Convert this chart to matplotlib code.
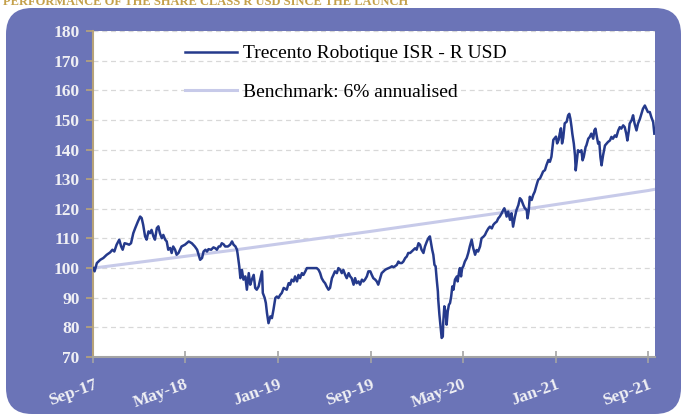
import pandas as pd
import matplotlib
matplotlib.use('Agg')
import matplotlib.pyplot as plt
from matplotlib.patches import FancyBboxPatch

start = pd.Timestamp('2017-09-01')

# fund NAV (rebased to 100), days since start
fund_days = [0, 3, 9, 18, 26, 35, 44, 50, 55, 61, 68, 73, 77, 82, 88, 94, 99, 105, 110, 117,
             123, 127, 131, 136, 140, 145, 149, 153, 158, 162, 167, 171, 175, 180, 184, 189, 193, 197, 202, 206,
             210, 215, 219, 224, 228, 232, 241, 251, 259, 267, 273, 277, 281, 286, 290, 295,
             299, 303, 310, 316, 321, 325, 330, 334, 338, 343, 347, 354, 360, 365, 369, 374,
             378, 380, 384, 387, 391, 395, 400, 404, 409, 413, 417, 422, 426, 430, 435, 439,
             444, 446, 451, 454, 457, 461, 466, 470, 474, 479, 483, 487, 492, 496, 501,
             509, 514, 518, 522, 527, 531, 536, 540, 544, 549, 553, 558, 562, 571, 579, 588,
             593, 597, 601, 606, 610, 614, 619, 623, 628, 632, 636, 641, 645, 650, 654, 658,
             663, 667, 672, 676, 680, 685, 689, 693, 698, 702, 707, 711, 715, 720, 724, 729,
             733, 737, 742, 746, 750, 755, 759, 764, 768, 772, 777, 781, 786, 790, 794, 799,
             803, 807, 812, 816, 821, 825, 829, 834, 838, 843, 847, 851, 856, 860, 864, 869,
             873, 878, 882, 886, 889, 892, 895, 898, 901, 904, 907, 908, 911, 914, 917, 920,
             921, 924, 928, 930, 933, 936, 939, 942, 945, 948, 952, 957, 959, 963, 965, 968,
             971, 974, 978, 983, 987, 991, 996, 1000, 1005, 1009, 1013, 1018, 1022, 1027, 1031, 1035,
             1040, 1044, 1049, 1053, 1057, 1062, 1066, 1070, 1075, 1079, 1082, 1085, 1088, 1092, 1097, 1101,
             1105, 1110, 1114, 1119, 1123, 1127, 1132, 1136, 1141, 1143, 1146, 1149, 1154, 1158, 1162, 1167,
             1171, 1176, 1180, 1184, 1189, 1193, 1198, 1202, 1206, 1211, 1215, 1218, 1221, 1225, 1228, 1231,
             1234, 1237, 1241, 1246, 1250, 1253, 1256, 1259, 1261, 1265, 1268, 1270, 1273, 1276, 1281, 1285,
             1288, 1291, 1296, 1298, 1303, 1307, 1311, 1316, 1319, 1322, 1325, 1329, 1332, 1335, 1338, 1342,
             1347, 1351, 1355, 1360, 1364, 1368, 1373, 1377, 1382, 1386, 1390, 1395, 1399, 1403, 1406, 1410,
             1412, 1417, 1421, 1425, 1430, 1434, 1439, 1443, 1447, 1452, 1456, 1460, 1465, 1469, 1474, 1477]
fund_values = [100.0, 98.9, 101.7, 102.8, 103.4, 104.5, 105.3, 106.2, 105.6, 107.9, 109.6, 107.3, 106.2, 108.4, 108.2, 107.9, 108.4, 111.8, 113.5, 115.7,
               117.4, 116.9, 114.6, 110.7, 109.6, 112.4, 111.8, 112.9, 110.7, 109.6, 113.5, 114.1, 111.8, 110.1, 111.2, 109.6, 109.0, 106.2, 106.8, 105.1,
               107.3, 106.2, 104.5, 105.1, 106.2, 107.3, 107.9, 109.0, 108.4, 107.3, 106.2, 104.5, 102.8, 103.4, 105.6, 106.2,
               105.6, 106.4, 106.2, 107.0, 106.7, 106.2, 107.3, 107.3, 108.4, 108.0, 107.3, 107.3, 107.9, 109.0, 107.9, 107.3,
               106.2, 104.5, 100.6, 96.6, 99.4, 96.1, 97.2, 92.7, 98.3, 94.4, 96.1, 97.7, 93.3, 92.7, 93.8, 96.1,
               98.9, 91.6, 89.9, 88.2, 84.8, 81.4, 83.7, 83.1, 85.9, 89.9, 90.4, 89.9, 91.0, 91.6, 93.3,
               92.7, 94.9, 94.4, 96.1, 95.5, 97.2, 95.5, 97.7, 96.6, 98.3, 97.7, 98.9, 100.0, 100.0, 100.0, 100.0,
               99.4, 98.3, 96.6, 95.5, 94.9, 93.8, 92.7, 93.3, 96.6, 97.7, 98.9, 98.3, 100.0, 99.4, 98.3, 99.4,
               97.7, 96.6, 98.3, 97.2, 96.6, 94.4, 96.6, 94.9, 95.5, 94.4, 96.1, 95.5, 96.1, 97.2, 98.9, 98.9,
               97.7, 96.6, 96.1, 95.5, 94.4, 96.6, 98.3, 98.9, 99.4, 99.7, 100.0, 100.2, 100.6, 100.3, 100.6, 101.1,
               102.2, 101.7, 101.7, 102.2, 103.4, 103.9, 105.1, 105.1, 105.6, 106.2, 106.7, 106.2, 108.4, 107.9, 106.2, 105.1,
               107.3, 109.0, 110.1, 110.7, 108.4, 106.2, 104.5, 101.1, 100.6, 96.1, 92.1, 89.3, 84.3, 80.3, 76.4, 76.9,
               81.4, 87.1, 84.8, 80.9, 85.4, 87.6, 88.2, 90.4, 93.8, 92.7, 96.1, 97.2, 95.5, 98.9, 100.0, 97.2,
               100.0, 100.6, 102.2, 103.4, 105.1, 107.3, 109.6, 106.8, 104.5, 106.1, 105.6, 107.3, 110.1, 110.6, 111.2, 112.3,
               113.4, 114.0, 113.4, 114.6, 115.2, 115.7, 116.8, 117.4, 118.5, 119.6, 120.2, 119.1, 117.4, 119.1, 116.3, 118.5,
               114.0, 117.4, 119.6, 121.3, 123.6, 123.0, 121.3, 120.2, 119.6, 116.8, 119.1, 124.1, 123.0, 124.7, 125.8, 128.1,
               129.8, 130.3, 131.4, 132.6, 133.1, 134.8, 136.5, 135.9, 137.6, 143.3, 143.9, 144.4, 142.1, 143.3, 145.5, 147.2,
               142.1, 143.9, 148.9, 149.4, 151.6, 152.1, 150.4, 147.6, 145.4, 142.0, 138.1, 133.0, 136.4, 139.8, 139.2, 139.8,
               136.4, 137.5, 140.9, 141.4, 143.7, 144.3, 145.4, 143.7, 146.5, 147.1, 144.8, 142.0, 142.6, 137.5, 134.7, 138.1,
               141.4, 142.0, 142.6, 143.1, 144.3, 143.7, 144.8, 144.3, 146.5, 147.6, 147.1, 148.2, 147.6, 145.4, 143.1, 146.5,
               148.8, 149.9, 151.6, 148.8, 146.5, 148.8, 150.4, 152.1, 153.8, 154.9, 153.8, 152.7, 152.7, 151.0, 149.3, 145.4]

# benchmark: 6% annualised
bench_days = [0, 365, 730, 1096, 1461, 1478]
bench_values = [100.0, 106.0, 112.4, 119.1, 126.2, 126.6]

x_tick_dates = ['2017-09-01', '2018-05-01', '2019-01-01', '2019-09-01', '2020-05-01', '2021-01-01', '2021-09-01']
x_tick_labels = ['Sep-17', 'May-18', 'Jan-19', 'Sep-19', 'May-20', 'Jan-21', 'Sep-21']
y_ticks = [70, 80, 90, 100, 110, 120, 130, 140, 150, 160, 170, 180]
fund_label = 'Trecento Robotique ISR - R USD'
bench_label = 'Benchmark: 6% annualised'
title = 'PERFORMANCE OF THE SHARE CLASS R USD SINCE THE LAUNCH'

fund_dates = start + pd.to_timedelta(fund_days, unit='D')
bench_dates = start + pd.to_timedelta(bench_days, unit='D')

panel_col = '#6b74b7'
label_col = '#f0f0f4'
serif = ['Liberation Serif', 'DejaVu Serif']

fig = plt.figure(figsize=(6.82, 4.16), dpi=100)

# blue rounded panel behind the chart (pixel coordinates)
bg = fig.add_axes([0, 0, 1, 1])
bg.set_xlim(0, 682)
bg.set_ylim(416, 0)
bg.axis('off')
bg.add_patch(FancyBboxPatch((6, 8), 675, 406, boxstyle='round,pad=0,rounding_size=26',
                            fc=panel_col, ec='none'))
# title sits mostly above the crop, as in the source image
fig.text(0.005, 0.995, title, color='#c4a04a', fontsize=9, fontweight='bold',
         family=serif, va='center', ha='left')

ax = fig.add_axes([0.137, 0.142, 0.823, 0.783])
ax.set_facecolor('white')

ax.plot(bench_dates, bench_values, color='#c7cae9', lw=2.2, label=bench_label, zorder=2)
ax.plot(fund_dates, fund_values, color='#253a8c', lw=1.8, label=fund_label, zorder=3)

ax.set_ylim(70, 180)
ax.set_yticks(y_ticks)
ax.set_xlim(start, start + pd.Timedelta(days=1478))
ax.set_xticks(pd.to_datetime(x_tick_dates))
ax.set_xticklabels(x_tick_labels)

ax.yaxis.grid(True, linestyle=(0, (4, 3)), color='#d8d8d8', lw=0.9)
ax.set_axisbelow(True)

for s in ['top', 'right']:
    ax.spines[s].set_visible(False)
ax.spines['left'].set_color('#b7a37a')
ax.spines['left'].set_linewidth(1.5)
ax.spines['bottom'].set_color('#a4a4a4')
ax.spines['bottom'].set_linewidth(1.5)

ax.tick_params(axis='y', direction='out', length=5, width=1.2, color='#b7a37a',
               labelcolor=label_col, pad=5)
ax.tick_params(axis='x', direction='inout', length=8, width=1.2, color='#a4a4a4',
               labelcolor=label_col, pad=10)
for lab in ax.get_yticklabels():
    lab.set_family(serif)
    lab.set_fontweight('bold')
    lab.set_fontsize(12.5)
for lab in ax.get_xticklabels():
    lab.set_family(serif)
    lab.set_fontweight('bold')
    lab.set_fontsize(12.5)
    lab.set_rotation(20)
    lab.set_ha('right')
    lab.set_rotation_mode('anchor')

handles, labels = ax.get_legend_handles_labels()
leg = ax.legend(handles[::-1], labels[::-1], loc='upper left', bbox_to_anchor=(0.163, 0.958),
                frameon=False, borderpad=0, borderaxespad=0, labelspacing=1.06,
                handlelength=2.7, handletextpad=0.3, prop={'family': serif, 'size': 14})

fig.savefig('out.png', dpi=100)
